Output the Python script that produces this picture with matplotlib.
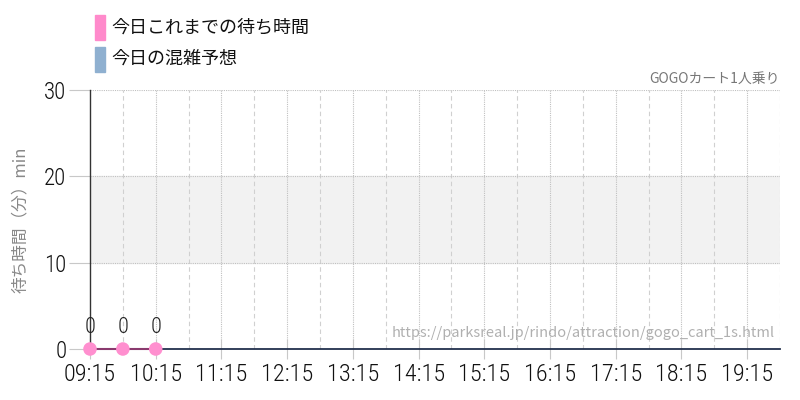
import matplotlib
matplotlib.use('Agg')
import matplotlib.pyplot as plt
from matplotlib.patches import Rectangle

plt.rcParams['font.family'] = ['Noto Sans CJK JP', 'DejaVu Sans']

# today's actual waits so far
actual_times = ['09:15', '09:45', '10:15']
actual_waits = [0, 0, 0]

# today's forecast
forecast_times = ['09:15', '19:45']
forecast_waits = [0, 0]

hour_ticks = ['09:15', '10:15', '11:15', '12:15', '13:15', '14:15',
              '15:15', '16:15', '17:15', '18:15', '19:15']
half_ticks = ['09:45', '10:45', '11:45', '12:45', '13:45', '14:45',
              '15:45', '16:45', '17:45', '18:45', '19:45']
y_ticks = [0, 10, 20, 30]

title = 'GOGOカート1人乗り'
url = 'https://parksreal.jp/rindo/attraction/gogo_cart_1s.html'


def to_min(s):
    h, m = s.split(':')
    return int(h) * 60 + int(m)


num_font = ['Roboto Condensed', 'DejaVu Sans']

fig = plt.figure(figsize=(8, 4), dpi=100)
ax = fig.add_axes([90 / 800, 51 / 400, 690 / 800, 259 / 400])

x_min, x_max = to_min('09:15'), to_min('19:45')
ax.set_xlim(x_min, x_max)
ax.set_ylim(0, 30)

# band 10-20
ax.axhspan(10, 20, color='#f2f2f2', zorder=0)

# gridlines
for t in half_ticks:
    ax.axvline(to_min(t), color='#d0d0d0', lw=0.8, ls=(0, (4, 3)), zorder=1)
for t in hour_ticks[1:]:
    ax.axvline(to_min(t), color='#c0c0c0', lw=0.8, ls=(0, (1, 1)), zorder=1)
for v in y_ticks[1:]:
    ax.axhline(v, color='#c0c0c0', lw=0.8, ls=(0, (1, 1)), zorder=1)

fx = [to_min(t) for t in forecast_times]
ax.plot(fx, forecast_waits, color='#22304d', lw=1.3, zorder=3, clip_on=False)

ax_x = [to_min(t) for t in actual_times]
ax.plot(ax_x, actual_waits, color='#8a3a6e', lw=1.5, zorder=4, clip_on=False)
ax.scatter(ax_x, actual_waits, s=95, color='#ff8fcf', zorder=5, clip_on=False,
           edgecolors='none')
for x, v in zip(ax_x, actual_waits):
    ax.text(x, v + 1.3, str(v), ha='center', va='bottom', family=num_font,
            fontsize=16, fontweight='light', color='#222222', zorder=6)

ax.set_xticks([to_min(t) for t in hour_ticks])
ax.set_xticklabels(hour_ticks, family=num_font, fontsize=17.5, fontweight='light',
                   color='#111111')
ax.set_yticks(y_ticks)
ax.set_yticklabels([str(v) for v in y_ticks], family=num_font, fontsize=16.5,
                   fontweight='light', color='#111111')
ax.tick_params(axis='x', length=14, width=0.8, color='#c8c8c8', pad=3, direction='inout')
ax.tick_params(axis='y', length=15, width=0.8, color='#c8c8c8', pad=2)

for s in ['top', 'right', 'bottom']:
    ax.spines[s].set_visible(False)
ax.spines['left'].set_color('#333333')
ax.spines['left'].set_linewidth(1.0)

ax.set_ylabel('待ち時間（分）min', fontsize=12, color='#888888')
ax.yaxis.set_label_coords(-0.088, 0.5)

ax.text(1.0, 1.015, title, transform=ax.transAxes, ha='right', va='bottom',
        fontsize=10, color='#777777')
ax.text(0.992, 0.035, url, transform=ax.transAxes, ha='right', va='bottom',
        fontsize=10.5, color='#b0b0b0', zorder=2)

# legend
fig.patches.append(Rectangle((95 / 800, 1 - 40 / 400), 10 / 800, 25 / 400,
                             transform=fig.transFigure, color='#ff8acb'))
fig.patches.append(Rectangle((95 / 800, 1 - 72 / 400), 10 / 800, 25 / 400,
                             transform=fig.transFigure, color='#8fb0d0'))
fig.text(111 / 800, 1 - 27 / 400, '今日これまでの待ち時間', fontsize=13,
         va='center', color='#111111')
fig.text(111 / 800, 1 - 59 / 400, '今日の混雑予想', fontsize=13,
         va='center', color='#111111')

fig.savefig('out.png', dpi=100)
